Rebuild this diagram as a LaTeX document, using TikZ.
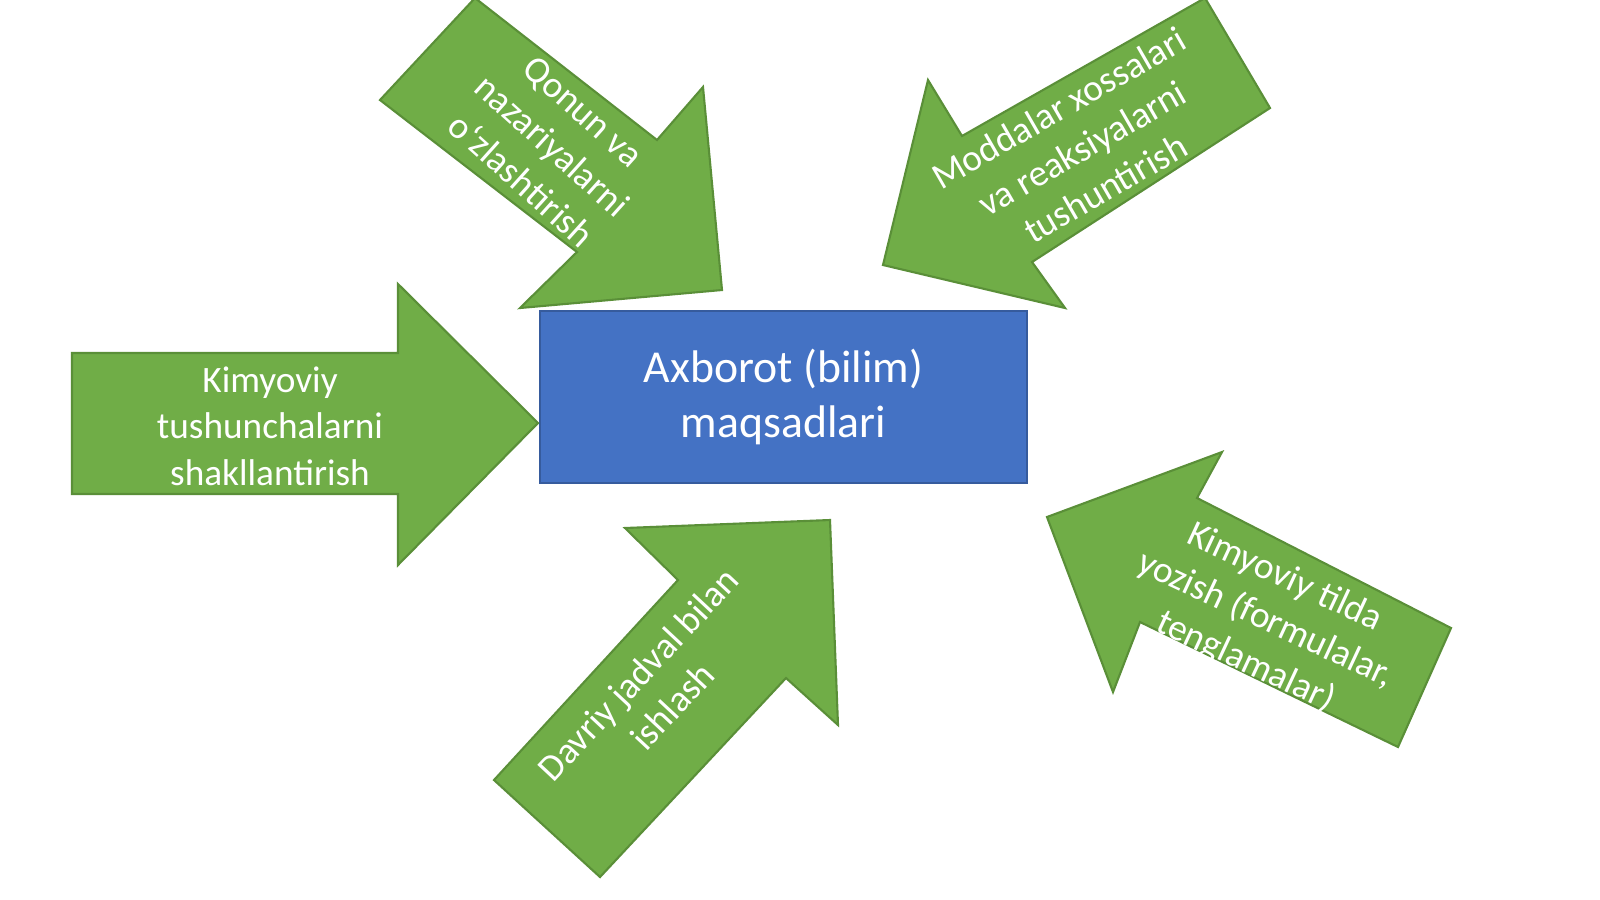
\documentclass[tikz,border=0pt]{standalone}
\usepackage{fontspec}
\setmainfont{Carlito}
\begin{document}
\begin{tikzpicture}[x=0.01cm,y=-0.01cm,
  arr/.style={fill=arrgreen,draw=arrline,line width=0.6pt},
  lbl/.style={text=white,align=center,font=\fontsize{10.6}{13.2}\selectfont,inner sep=0pt}]
\definecolor{arrgreen}{HTML}{70AD47}
\definecolor{arrline}{HTML}{5A8F38}
\definecolor{boxblue}{HTML}{4472C4}
\useasboundingbox (0,0) rectangle (1600,899);
\fill[white] (0,0) rectangle (1600,899);
\clip (0,0) rectangle (1600,899);
\node[fill=boxblue,draw=boxblue!80!black,line width=0.6pt,minimum width=4.87cm,minimum height=1.72cm,text=white,align=center,font=\fontsize{13}{15.6}\selectfont] (box) at (783.5,397) {Axborot (bilim)\\maqsadlari};
\draw[arr] (72,353)--(398,353)--(398,284)--(538,423)--(398,565)--(398,494)--(72,494)--cycle;
\node[lbl] (t1) at (270,426) {Kimyoviy\\tushunchalarni\\shakllantirish};
\draw[arr] (380,100)--(475,-2)--(657,140)--(703,87)--(722,290)--(520,308)--(577,252)--cycle;
\node[lbl,rotate=-42] (t2) at (552,146) {Qonun va\\nazariyalarni\\o‘zlashtirish};
\draw[arr] (883,265)--(928,80)--(962,136)--(1205,-2)--(1270,108)--(1032,262)--(1065,308)--cycle;
\node[lbl,rotate=30] (t3) at (1082,148) {Moddalar xossalari\\va reaksiyalarni\\tushuntirish};
\draw[arr] (625,528)--(830,520)--(838,725)--(786,678)--(600,877)--(494,780)--(678,580)--cycle;
\node[lbl,rotate=47] (t4) at (655,690) {Davriy jadval bilan\\ishlash};
\draw[arr] (1047,517)--(1222,452)--(1197,498)--(1451,628)--(1398,747)--(1140,622)--(1113,692)--cycle;
\node[lbl,rotate=-25] (t5) at (1265,620) {Kimyoviy tilda\\yozish (formulalar,\\tenglamalar)};
\end{tikzpicture}
\end{document}
